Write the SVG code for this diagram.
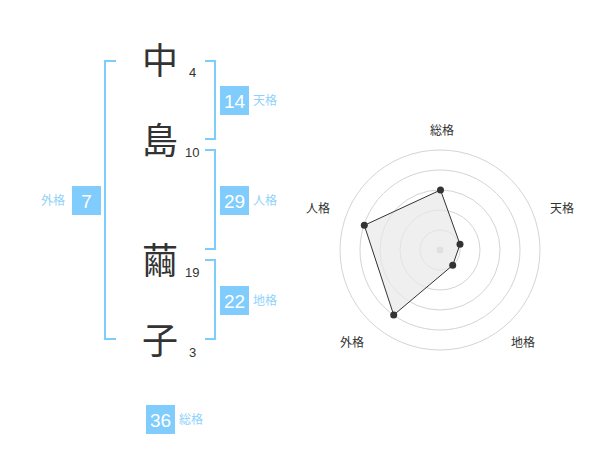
<svg xmlns="http://www.w3.org/2000/svg" width="600" height="470" viewBox="0 0 600 470">
<style>
.ch{font-family:"Noto Sans CJK JP","Noto Sans CJK SC",sans-serif;font-size:36px;fill:#333;text-anchor:middle}
.num{font-family:"Liberation Sans",Arial,sans-serif;font-size:13px;fill:#333}
.br{fill:none;stroke:#7dcdfb;stroke-width:2}
.box{fill:#80ccfc}
.bv{font-family:"Liberation Sans",Arial,sans-serif;font-size:19px;fill:#fff;text-anchor:middle}
.bl{font-family:"Noto Sans CJK JP","Noto Sans CJK SC",sans-serif;font-size:12px;fill:#8fd2fb}
.ring{fill:none;stroke:#d4d4d4;stroke-width:1}
.rl{font-family:"Noto Sans CJK JP","Noto Sans CJK SC",sans-serif;font-size:12px;fill:#333;text-anchor:middle}
.pt{fill:#333}
</style>
<rect width="600" height="470" fill="#fff"/>
<g id="connectors">
<path class="br" d="M116,61 H105 V339 H116"/>
<path class="br" d="M205,61 H215 V139 H205"/>
<path class="br" d="M205,150 H215 V249 H205"/>
<path class="br" d="M205,260 H215 V339 H205"/>
</g>
<g id="char1"><text class="ch" x="160" y="74">中</text><text class="num" x="189" y="77">4</text></g>
<g id="char2"><text class="ch" x="160" y="154">島</text><text class="num" x="185" y="157">10</text></g>
<g id="char3"><text class="ch" x="160" y="274">繭</text><text class="num" x="185" y="277">19</text></g>
<g id="char4"><text class="ch" x="160" y="354">子</text><text class="num" x="189" y="357">3</text></g>
<g id="tenkaku"><rect class="box" x="220" y="86" width="29" height="29"/><text class="bv" x="234.5" y="107.5">14</text><text class="bl" x="253" y="105">天格</text></g>
<g id="jinkaku"><rect class="box" x="220" y="186" width="29" height="29"/><text class="bv" x="234.5" y="207.5">29</text><text class="bl" x="253" y="205">人格</text></g>
<g id="chikaku"><rect class="box" x="220" y="286" width="29" height="29"/><text class="bv" x="234.5" y="307.5">22</text><text class="bl" x="253" y="305">地格</text></g>
<g id="gaikaku"><rect class="box" x="72" y="186" width="29" height="29"/><text class="bv" x="86.5" y="207.5">7</text><text class="bl" x="41" y="205">外格</text></g>
<g id="soukaku"><rect class="box" x="146" y="405" width="29" height="29"/><text class="bv" x="160.5" y="426.5">36</text><text class="bl" x="179" y="424">総格</text></g>
<g id="radar">
<circle class="ring" cx="440" cy="250" r="20"/>
<circle class="ring" cx="440" cy="250" r="40"/>
<circle class="ring" cx="440" cy="250" r="60"/>
<circle class="ring" cx="440" cy="250" r="80"/>
<circle class="ring" cx="440" cy="250" r="100"/>
<circle cx="440" cy="250" r="3.5" fill="#ccc"/>
<polygon points="440.5,190 460,244.3 452.7,265.3 393.7,315 364.3,225.3" fill="#e8e8e8" fill-opacity="0.7" stroke="#333" stroke-width="1"/>
<circle class="pt" cx="440.5" cy="190" r="3.5"/>
<circle class="pt" cx="460" cy="244.3" r="3.5"/>
<circle class="pt" cx="452.7" cy="265.3" r="3.5"/>
<circle class="pt" cx="393.7" cy="315" r="3.5"/>
<circle class="pt" cx="364.3" cy="225.3" r="3.5"/>
<text class="rl" x="442" y="135">総格</text>
<text class="rl" x="562" y="213">天格</text>
<text class="rl" x="318" y="213">人格</text>
<text class="rl" x="352" y="347">外格</text>
<text class="rl" x="523" y="347">地格</text>
</g>
</svg>
